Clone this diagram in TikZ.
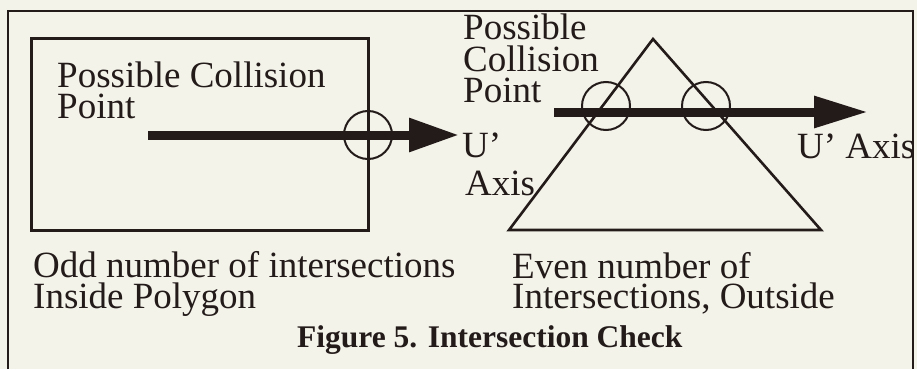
\documentclass[tikz,border=0pt]{standalone}
\usepackage{fontspec}
\setmainfont{Liberation Serif}
\usetikzlibrary{arrows.meta}
\definecolor{paper}{RGB}{243,243,233}
\definecolor{ink}{RGB}{35,26,26}
\begin{document}
\begin{tikzpicture}[x=1pt,y=-1pt,
  lbl/.style={anchor=base west,inner sep=0pt,text=ink,font=\fontsize{37}{31}\selectfont},
  figcaption/.style={anchor=base west,inner sep=0pt,text=ink,font=\fontsize{31.5}{31}\selectfont\bfseries},
  outline/.style={draw=ink,line width=2.6pt,line join=miter},
  ring/.style={draw=ink,line width=2pt},
  bigarrow/.style={draw=ink,line width=9pt,-{Triangle[length=50pt,width=32pt]}},
]
\fill[paper] (0,0) rectangle (917,369);
\useasboundingbox (0,0) rectangle (917,369);
% outer frame (bottom edge lies below the picture)
\draw[ink,line width=2pt] (8,369) -- (8,11) -- (913,11) -- (913,369);

% left: rectangle
\draw[outline,line width=3pt] (31,39) rectangle (368,230);
\node[lbl] (pcl1) at (57,87) {Possible Collision};
\node[lbl] (pcl2) at (57,118) {Point};
\coordinate (a1s) at (148,135);
\coordinate (a1e) at (459,135);
\draw[bigarrow] (a1s) -- (a1e);
\node[ring,circle,minimum size=48pt,inner sep=0pt] (c1) at (368,135) {};
\node[lbl] (ua1) at (462,157) {U'};
\node[lbl] (ua2) at (465,195) {Axis};

% right: triangle
\draw[outline] (653,39) -- (509,230) -- (821,230) -- cycle;
\node[lbl] (pcr1) at (463,40) {Possible};
\node[lbl] (pcr2) at (463,71) {Collision};
\node[lbl] (pcr3) at (463,102) {Point};
\coordinate (a2s) at (554,112);
\coordinate (a2e) at (868,112);
\draw[bigarrow,-{Triangle[length=54pt,width=30pt]}] (a2s) -- (a2e);
\node[ring,circle,minimum size=48pt,inner sep=0pt] (c2) at (606,106) {};
\node[ring,circle,minimum size=48pt,inner sep=0pt] (c3) at (706,106) {};
\node[lbl] (uar) at (797,158) {U' Axis};

% bottom texts
\node[lbl] (odd1) at (33,277) {Odd number of intersections};
\node[lbl] (odd2) at (33,308) {Inside Polygon};
\node[lbl] (even1) at (512,278) {Even number of};
\node[lbl] (even2) at (512,308) {Intersections, Outside};
\node[figcaption] (fig) at (297,347) {Figure 5. Intersection Check};
\end{tikzpicture}
\end{document}
